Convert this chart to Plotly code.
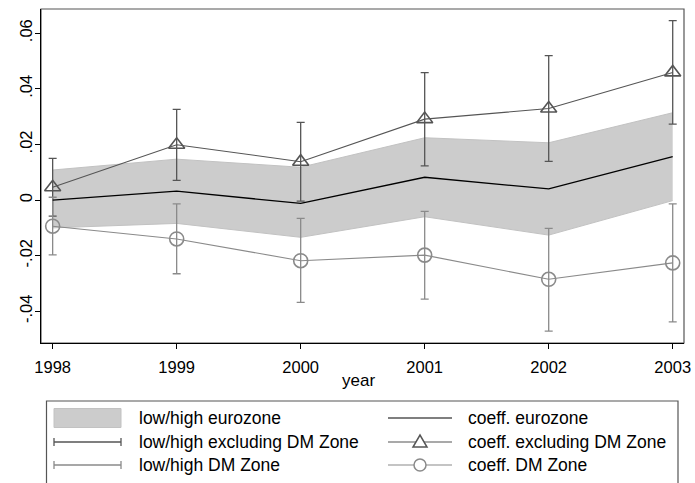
import plotly.graph_objects as go

years = [1998, 1999, 2000, 2001, 2002, 2003]

coef_euro = [0.0000, 0.0032, -0.0012, 0.0082, 0.0040, 0.0156]
euro_low = [-0.0100, -0.0084, -0.0134, -0.0060, -0.0126, -0.0002]
euro_high = [0.0108, 0.0147, 0.0118, 0.0224, 0.0206, 0.0314]

coef_excl = [0.0046, 0.0199, 0.0138, 0.0291, 0.0329, 0.0459]
excl_low = [-0.0058, 0.0071, -0.0004, 0.0123, 0.0139, 0.0273]
excl_high = [0.0150, 0.0326, 0.0279, 0.0458, 0.0519, 0.0645]

coef_dm = [-0.0094, -0.0140, -0.0218, -0.0198, -0.0285, -0.0226]
dm_low = [-0.0197, -0.0265, -0.0368, -0.0356, -0.0471, -0.0438]
dm_high = [0.0010, -0.0014, -0.0066, -0.0041, -0.0102, -0.0014]

ytick_vals = [-0.04, -0.02, 0, 0.02, 0.04, 0.06]
ytick_text = ["-.04", "-.02", "0", ".02", ".04", ".06"]

legend_labels = [
    "low/high eurozone", "low/high excluding DM Zone", "low/high DM Zone",
    "coeff. eurozone", "coeff. excluding DM Zone", "coeff. DM Zone",
]

W, H = 695, 483
ML, MR, MT, MB = 41, 11, 9, 140
PX0, PX1 = ML, W - MR
PY0, PY1 = MT, H - MB

BAND = "#cccccc"
BAND_EDGE = "#c2c2c2"
DARK = "#555555"
LIGHT = "#8a8a8a"
FONT = "Liberation Sans, Arial, sans-serif"


def fx(px):
    return (px - PX0) / (PX1 - PX0)


def fy(py):
    return (PY1 - py) / (PY1 - PY0)


fig = go.Figure()

fig.add_trace(go.Scatter(x=years, y=euro_low, mode="lines",
                         line=dict(color=BAND_EDGE, width=1), showlegend=False, hoverinfo="skip"))
fig.add_trace(go.Scatter(x=years, y=euro_high, mode="lines", fill="tonexty",
                         fillcolor=BAND, line=dict(color=BAND_EDGE, width=1),
                         showlegend=False, hoverinfo="skip"))


def err(coef, low, high):
    return dict(type="data", symmetric=False,
                array=[h - c for c, h in zip(coef, high)],
                arrayminus=[c - l for c, l in zip(coef, low)])


fig.add_trace(go.Scatter(x=years, y=coef_excl, mode="markers",
                         marker=dict(size=1, opacity=0),
                         error_y=dict(**err(coef_excl, excl_low, excl_high), color=DARK,
                                      thickness=1.3, width=4),
                         showlegend=False))
fig.add_trace(go.Scatter(x=years, y=coef_dm, mode="markers",
                         marker=dict(size=1, opacity=0),
                         error_y=dict(**err(coef_dm, dm_low, dm_high), color=LIGHT,
                                      thickness=1.3, width=4),
                         showlegend=False))

fig.add_trace(go.Scatter(x=years, y=coef_euro, mode="lines",
                         line=dict(color="black", width=1.3), showlegend=False))
fig.add_trace(go.Scatter(x=years, y=coef_excl, mode="lines+markers",
                         line=dict(color=DARK, width=1.1),
                         marker=dict(symbol="triangle-up-open", size=14,
                                     color=DARK, line=dict(width=1.6, color=DARK)),
                         showlegend=False))
fig.add_trace(go.Scatter(x=years, y=coef_dm, mode="lines+markers",
                         line=dict(color=LIGHT, width=1.1),
                         marker=dict(symbol="circle-open", size=14,
                                     color=LIGHT, line=dict(width=1.6, color=LIGHT)),
                         showlegend=False))

shapes = []
shapes.append(dict(type="rect", xref="paper", yref="paper", x0=0, x1=1, y0=0, y1=1,
                   line=dict(color="#555555", width=1.2), layer="below"))

shapes.append(dict(type="rect", xref="paper", yref="paper",
                   x0=fx(46.5), x1=fx(678), y0=fy(490), y1=fy(401),
                   line=dict(color="#555555", width=1.2), fillcolor="rgba(0,0,0,0)"))

rows = [418, 442, 465]
c1s, c1e, c1t = 54, 121, 137
c2s, c2e, c2t = 388, 452, 466

shapes.append(dict(type="rect", xref="paper", yref="paper",
                   x0=fx(c1s), x1=fx(c1e), y0=fy(427.5), y1=fy(408.5),
                   fillcolor=BAND, line=dict(color=BAND_EDGE, width=1)))
for ry, col in [(rows[1], DARK), (rows[2], LIGHT)]:
    shapes.append(dict(type="line", xref="paper", yref="paper",
                       x0=fx(c1s), x1=fx(c1e), y0=fy(ry), y1=fy(ry),
                       line=dict(color=col, width=1.3)))
    for xx in (c1s, c1e):
        shapes.append(dict(type="line", xref="paper", yref="paper",
                           x0=fx(xx), x1=fx(xx), y0=fy(ry - 4), y1=fy(ry + 4),
                           line=dict(color=col, width=1.3)))
for ry, col in [(rows[0], "black"), (rows[1], DARK), (rows[2], LIGHT)]:
    shapes.append(dict(type="line", xref="paper", yref="paper",
                       x0=fx(c2s), x1=fx(c2e), y0=fy(ry), y1=fy(ry),
                       line=dict(color=col, width=1.2)))
mid = (c2s + c2e) / 2
shapes.append(dict(type="path", xref="paper", yref="paper",
                   xsizemode="pixel", ysizemode="pixel",
                   xanchor=fx(mid), yanchor=fy(rows[1]),
                   path="M-7,-5 L7,-5 L0,7 Z", fillcolor="white",
                   line=dict(color=DARK, width=1.5)))
shapes.append(dict(type="circle", xref="paper", yref="paper",
                   xsizemode="pixel", ysizemode="pixel",
                   xanchor=fx(mid), yanchor=fy(rows[2]),
                   x0=-6, x1=6, y0=-6, y1=6, fillcolor="white",
                   line=dict(color=LIGHT, width=1.5)))

annotations = []
for i, ry in enumerate(rows):
    annotations.append(dict(x=fx(c1t), y=fy(ry), xref="paper", yref="paper",
                            text=legend_labels[i], showarrow=False,
                            xanchor="left", yanchor="middle",
                            font=dict(size=17.5, color="black", family=FONT)))
    annotations.append(dict(x=fx(c2t), y=fy(ry), xref="paper", yref="paper",
                            text=legend_labels[3 + i], showarrow=False,
                            xanchor="left", yanchor="middle",
                            font=dict(size=17.5, color="black", family=FONT)))
annotations.append(dict(x=fx(358), y=fy(380), xref="paper", yref="paper",
                        text="year", showarrow=False, xanchor="center", yanchor="middle",
                        font=dict(size=17, color="black", family=FONT)))

fig.update_layout(
    width=W, height=H,
    margin=dict(l=ML, r=MR, t=MT, b=MB, pad=0, autoexpand=False),
    paper_bgcolor="white", plot_bgcolor="white",
    shapes=shapes, annotations=annotations,
    showlegend=False,
    font=dict(family=FONT, color="black"),
    xaxis=dict(range=[1997.906, 2003.091], tickvals=years,
               ticktext=[str(y) for y in years], automargin=False,
               ticks="outside", ticklen=5, tickwidth=1.2, tickcolor="black",
               showline=True, linecolor="black", linewidth=1.3,
               showgrid=False, zeroline=False,
               tickfont=dict(size=16.5, family=FONT, color="black"),
               ticklabelstandoff=4),
    yaxis=dict(range=[-0.0514, 0.0687], tickvals=ytick_vals, ticktext=ytick_text,
               tickangle=-90, automargin=False,
               ticks="outside", ticklen=5, tickwidth=1.2, tickcolor="black",
               showline=True, linecolor="black", linewidth=1.3,
               showgrid=False, zeroline=False,
               tickfont=dict(size=16.5, family=FONT, color="black"),
               ticklabelstandoff=-4),
)

fig.write_html("out.html", config={"displayModeBar": False},
               post_script="document.body.style.margin='0';document.body.style.padding='0';")
